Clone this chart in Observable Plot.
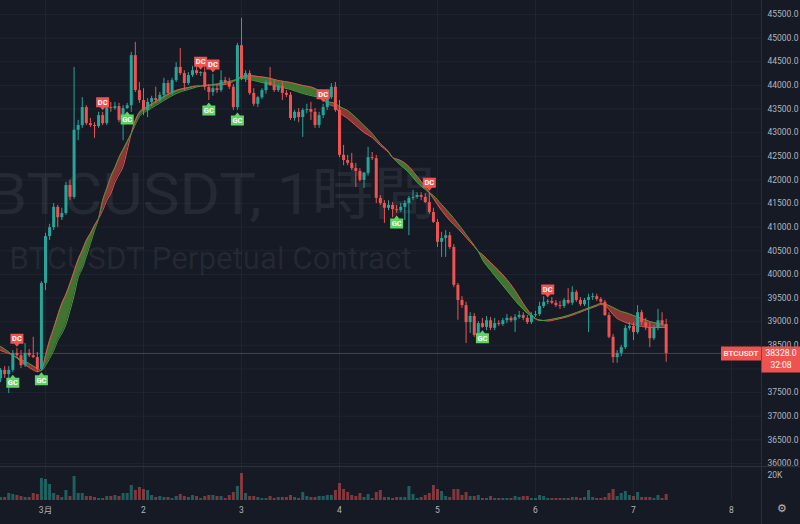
<!DOCTYPE html>
<html>
<head>
<meta charset="utf-8">
<script src="https://cdn.jsdelivr.net/npm/d3@7"></script>
<script src="https://cdn.jsdelivr.net/npm/@observablehq/plot@0.6"></script>
<style>
  html, body { margin: 0; padding: 0; background: #161a25; }
  #chart { width: 800px; height: 524px; background: #161a25; overflow: hidden; }
  #chart svg { display: block; }
</style>
</head>
<body>
<div id="chart"></div>
<script>
// ---------------- data (BTCUSDT perpetual, 1h candles from 2022-02-28 13:00 UTC) ----------------
const symbolName = "BTCUSDT";
const watermarkTitle = "BTCUSDT, 1時間";
const watermarkSub = "BTCUSDT Perpetual Contract";
const dayLabels = ["3月", "2", "3", "4", "5", "6", "7", "8"];
const priceTicks = [36000, 36500, 37000, 37500, 38000, 38500, 39000, 39500, 40000, 40500, 41000, 41500, 42000, 42500, 43000, 43500, 44000, 44500, 45000, 45500];
const volumeTicks = [20];
const lastPrice = 38328;
const countdown = "32:08";

const open = [37800,37970,37880,37970,38330,38280,38070,38330,38280,38240,
37990,39810,40800,40990,41420,41200,41290,41880,41630,43050,
43150,43530,43190,43150,43130,43360,43190,43530,43510,43550,
43260,43510,43570,44630,43890,43680,43470,43640,43720,43680,
43790,44040,43830,44100,44380,44250,44040,44210,44310,44250,
44270,43960,43850,43930,43890,44100,44060,43960,43530,44840,
44150,44250,43830,43600,43740,43890,44060,44000,43890,43980,
43830,43790,43300,43430,43320,43470,43490,43430,43150,43360,
43530,43740,43960,43470,42520,42410,42350,42240,42180,41990,
42140,42470,42450,41610,41500,41400,41460,41370,41350,41420,
41500,41610,41630,41670,41630,41520,41310,41100,40680,40760,
40820,40570,39770,39450,39340,38980,39110,38710,38960,38880,
39020,38860,38960,38940,39020,39070,39020,39090,39130,39070,
38980,39130,39150,39320,39410,39430,39390,39340,39320,39450,
39390,39620,39450,39360,39450,39510,39530,39470,39410,39130,
38670,38240,38330,38450,38860,38900,38770,39190,38980,38880,
38640,38860,39020,38940];

const high = [38010,38050,38050,38390,38430,38390,38540,38410,38670,38350,
39850,40870,41060,41500,41460,41400,41950,41990,44380,43260,
43740,43570,43300,43210,43430,43430,43740,43640,43640,43620,
43570,43620,44700,44910,44060,43930,43720,43770,43960,43850,
44150,44100,44150,44480,44780,44310,44270,44400,44420,44290,
44380,44020,44230,44020,44310,44170,44150,44020,44890,45420,
44310,44310,43930,43770,43930,44100,44380,44100,44020,44060,
43890,43850,43470,43510,43510,43600,43640,43510,43430,43600,
43770,44040,44060,43680,42730,42520,42560,42350,42240,42160,
42690,42580,42520,41670,41560,41560,41520,41460,41500,41560,
41650,41780,41730,41730,41710,41730,41400,41160,40890,40930,
40890,40630,39810,39530,39410,39190,39170,39000,39070,39110,
39090,39070,39020,39070,39150,39110,39150,39220,39190,39130,
39190,39220,39410,39530,39470,39510,39450,39430,39490,39700,
39740,39660,39510,39490,39580,39600,39580,39510,39450,39190,
38730,38390,38500,38920,38980,38980,39340,39240,39070,38980,
38920,39260,39190,39050];

const low = [37710,37800,37480,37920,38220,38010,38030,38240,38220,37920,
37970,39660,40720,40930,40990,41140,41250,41560,41590,42830,
43090,43150,43110,42880,43090,43150,43150,43430,43470,43210,
42830,43490,43430,43850,43620,43360,43320,43550,43620,43640,
43720,43790,43790,44060,44210,43890,44000,44170,44210,44190,
43890,43680,43770,43830,43850,44020,43910,43470,43470,44100,
44060,43790,43550,43530,43700,43810,43980,43850,43850,43680,
43740,43260,43240,43210,42900,43400,43260,43090,43090,43300,
43470,43700,43430,42470,42300,42300,42200,41840,41950,41820,
42090,42410,41500,41460,41080,41350,41200,41290,41310,41140,
40820,41560,41590,41560,41500,41270,41080,40570,40360,40360,
40530,39720,39030,39280,38540,38750,38670,38600,38860,38810,
38810,38810,38900,38900,38960,38980,38770,39050,39020,38940,
38940,39090,39110,39280,39360,39360,39300,39260,39280,39360,
39340,39410,39320,39320,38770,39450,39430,39360,39110,38640,
38120,38120,38260,38410,38810,38600,38730,38920,38810,38450,
38600,38810,38900,38140];

const close = [37970,37880,37970,38330,38280,38070,38330,38280,38240,37990,
39810,40800,40990,41420,41200,41290,41880,41630,43050,43150,
43530,43190,43150,43130,43360,43190,43530,43510,43550,43260,
43510,43570,44630,43890,43680,43470,43640,43720,43680,43790,
44040,43830,44100,44380,44250,44040,44210,44310,44250,44270,
43960,43850,43930,43890,44100,44060,43960,43530,44840,44150,
44250,43830,43600,43740,43890,44060,44000,43890,43980,43830,
43790,43300,43430,43320,43470,43490,43430,43150,43360,43530,
43740,43960,43470,42520,42410,42350,42240,42180,41990,42140,
42470,42450,41610,41500,41400,41460,41370,41350,41420,41500,
41610,41630,41670,41630,41520,41310,41100,40680,40760,40820,
40570,39770,39450,39340,38980,39110,38710,38960,38880,39020,
38860,38960,38940,39020,39070,39020,39090,39130,39070,38980,
39130,39150,39320,39410,39430,39390,39340,39320,39450,39390,
39620,39450,39360,39450,39510,39530,39470,39410,39130,38670,
38240,38330,38450,38860,38900,38770,39190,38980,38880,38640,
38860,39020,38940,38328];

// volume in thousands (K)
const volumeK = [2.4,2.4,5.6,4.8,4.0,3.2,2.4,2.4,5.6,4.8,
17.6,16.8,12.8,5.6,4.0,2.4,8.0,3.2,19.2,5.6,
5.6,3.2,3.2,2.4,1.6,1.6,3.2,3.2,4.0,3.2,
5.6,5.6,12.0,8.0,10.4,8.8,8.0,4.0,2.4,3.2,
2.4,2.4,1.6,3.2,4.8,3.2,2.4,4.0,3.2,1.6,
3.2,4.0,4.0,3.2,3.2,1.6,4.0,6.4,11.2,21.6,
5.6,3.2,3.2,2.4,1.6,1.6,3.2,1.6,2.4,2.4,
2.4,4.0,2.4,1.6,6.4,3.2,2.4,2.4,3.2,3.2,
4.0,4.0,8.0,13.6,8.8,6.4,4.0,3.2,5.6,2.4,
4.8,1.6,6.4,8.0,2.4,2.4,1.6,2.4,2.4,2.4,
11.2,4.8,1.6,2.4,4.0,5.6,12.0,8.8,7.2,3.2,
2.4,8.8,8.8,4.0,6.4,3.2,3.2,4.0,1.6,1.6,
3.2,1.6,1.6,1.6,1.6,1.6,3.2,2.4,3.2,3.2,
1.6,1.6,4.0,3.2,1.6,1.6,1.6,1.6,1.6,1.6,
2.4,2.4,1.6,2.4,8.0,2.4,1.6,1.6,2.4,5.6,
8.8,3.2,5.6,7.2,4.0,3.2,6.4,2.4,2.4,2.4,
1.6,4.0,1.6,4.8];

// two moving-average lines of the cross indicator, read at these candle indices
const maIndex = [0,2,3,4,5,7,9,10,11,12,13,14,15,16,17,18,19,20,21,22,23,24,25,26,27,28,29,30,31,32,33,34,36,38,40,43,46,48,49,50,51,52,53,55,57,58,59,61,63,65,68,71,74,77,78,79,80,82,83,85,87,89,91,93,95,96,97,98,100,102,104,105,106,108,110,112,114,116,117,118,120,122,124,126,128,130,131,132,133,134,136,139,143,146,147,148,149,150,151,152,153,155,157,159,161,163];
const maFast = [38390,38327,38295,38231,38157,38030,37946,37967,38284,38602,38856,39131,39385,39575,39808,40062,40316,40506,40718,40866,41035,41183,41352,41564,41712,41945,42114,42283,42622,42982,43257,43426,43553,43659,43765,43892,43955,43987,43987,43987,44008,44008,44008,44019,44082,44135,44188,44209,44188,44167,44103,44061,43997,43934,43870,43701,43617,43532,43426,43299,43151,43003,42897,42728,42580,42474,42442,42410,42283,42072,41860,41733,41606,41352,41141,40971,40781,40591,40485,40421,40252,40083,39892,39660,39385,39152,39067,39035,39025,39014,39046,39109,39236,39332,39363,39342,39258,39152,39067,39025,38983,38940,38898,38877,38877,38877];
const maSlow = [38475,38358,38284,38242,38200,38115,38009,37967,38073,38221,38390,38602,38750,38940,39236,39554,39935,40125,40379,40654,40929,41183,41564,41818,42072,42262,42474,42643,42812,42982,43172,43341,43468,43574,43680,43828,43913,43966,43987,44002,43997,44014,44029,44061,44103,44124,44146,44124,44082,44040,43976,43913,43828,43765,43744,43701,43659,43617,43553,43468,43320,43151,42982,42770,42601,42474,42389,42305,42156,41945,41797,41733,41670,41479,41289,41077,40845,40612,40485,40316,40083,39871,39660,39448,39258,39109,39057,39025,39025,39035,39067,39131,39258,39353,39385,39374,39342,39300,39258,39215,39194,39131,39067,39004,38961,38919];

// cross signals (candle index)
const goldenCross = [3, 10, 31, 51, 58, 97, 118];
const deadCross = [4, 25, 49, 52, 79, 105, 134];

// ---------------- build tables ----------------
const startHour = Date.UTC(2022, 1, 28, 13);
const HOUR = 3600000, DAY = 86400000;
const mar1 = Date.UTC(2022, 2, 1);
const timeOf = i => new Date(startHour + i * HOUR);
const candles = close.map((c, i) => ({t: timeOf(i), o: open[i], h: high[i], l: low[i], c, v: volumeK[i]}));
const maRows = maIndex.map((k, j) => ({t: timeOf(k), a: maFast[j], b: maSlow[j]}));
const gcRows = goldenCross.map(i => candles[i]);
const dcRows = deadCross.map(i => candles[i]);
const dayTicks = dayLabels.map((_, k) => new Date(mar1 + k * DAY));
const labelOf = new Map(dayTicks.map((d, k) => [+d, dayLabels[k]]));

const xDomain = [new Date(mar1 - 45 / 98 * DAY), new Date(mar1 + 716 / 98 * DAY)];
const UP = "#26a69a", DOWN = "#ef5350";
const GRID = "#1f2430", AXISLINE = "#2a2e39", TEXT = "#b2b5be";
const col = d => (d.c >= d.o ? UP : DOWN);
const FONT = "Roboto, 'Noto Sans CJK JP', 'Noto Sans', sans-serif";

// custom label symbols
const dcSymbol = {draw(ctx) {
  ctx.moveTo(-6.5, -15); ctx.lineTo(6.5, -15); ctx.lineTo(6.5, -5);
  ctx.lineTo(2.5, -5); ctx.lineTo(0, -2); ctx.lineTo(-2.5, -5); ctx.lineTo(-6.5, -5); ctx.closePath();
}};
const gcSymbol = {draw(ctx) {
  ctx.moveTo(-6.5, 15); ctx.lineTo(6.5, 15); ctx.lineTo(6.5, 5);
  ctx.lineTo(2.5, 5); ctx.lineTo(0, 2); ctx.lineTo(-2.5, 5); ctx.lineTo(-6.5, 5); ctx.closePath();
}};
const nameBox = {draw(ctx) { ctx.rect(-20, -7, 40, 14); }};
const priceBox = {draw(ctx) { ctx.rect(-19.5, -7, 39, 26); }};

const pricePlot = Plot.plot({
  width: 800, height: 466,
  marginLeft: 0, marginRight: 39, marginTop: 0, marginBottom: 0,
  style: {background: "transparent", color: TEXT, fontFamily: FONT, fontSize: "8.5px", overflow: "visible"},
  x: {type: "utc", domain: xDomain, axis: null, label: null},
  y: {domain: [35936, 45796], axis: null, label: null},
  color: {type: "identity"},
  marks: [
    Plot.gridY(priceTicks, {stroke: GRID, strokeOpacity: 1}),
    Plot.gridX(dayTicks, {stroke: GRID, strokeOpacity: 1}),
    Plot.text([watermarkTitle], {frameAnchor: "top-left", dx: -12, dy: 172, text: d => d, textAnchor: "start", lineAnchor: "top", fontSize: 58, fill: "#ffffff", fillOpacity: 0.065}),
    Plot.text([watermarkSub], {frameAnchor: "top-left", dx: 9, dy: 246, text: d => d, textAnchor: "start", lineAnchor: "top", fontSize: 31, fill: "#ffffff", fillOpacity: 0.065}),
    Plot.ruleY([lastPrice], {stroke: DOWN, strokeOpacity: 0.4}),
    Plot.areaY(maRows, {x: "t", y1: "b", y2: d => Math.max(d.a, d.b), fill: "#4c8a34", fillOpacity: 0.8, curve: "monotone-x"}),
    Plot.areaY(maRows, {x: "t", y1: "a", y2: d => Math.max(d.a, d.b), fill: "#a83f3b", fillOpacity: 0.8, curve: "monotone-x"}),
    Plot.line(maRows, {x: "t", y: "a", stroke: "#e0574f", strokeWidth: 1, curve: "monotone-x"}),
    Plot.line(maRows, {x: "t", y: "b", stroke: "#4f9a3c", strokeWidth: 1, curve: "monotone-x"}),
    Plot.ruleX(candles, {x: "t", y1: "l", y2: "h", stroke: col, strokeWidth: 1}),
    Plot.ruleX(candles, {x: "t", y1: "o", y2: "c", stroke: col, strokeWidth: 3}),
    Plot.dot(dcRows, {x: "t", y: "h", symbol: dcSymbol, fill: "#f05350", stroke: "none"}),
    Plot.text(dcRows, {x: "t", y: "h", text: () => "DC", dy: -10, fill: "#ffffff", fontSize: 7.5, fontWeight: "bold"}),
    Plot.dot(gcRows, {x: "t", y: "l", symbol: gcSymbol, fill: "#5fd364", stroke: "none"}),
    Plot.text(gcRows, {x: "t", y: "l", text: () => "GC", dy: 10, fill: "#ffffff", fontSize: 7.5, fontWeight: "bold"}),
    Plot.ruleX([xDomain[1]], {stroke: AXISLINE}),
    Plot.axisY({ticks: priceTicks, anchor: "right", label: null, tickSize: 0, tickPadding: 6, tickFormat: d => d.toFixed(1), fontSize: 8.5}),
    Plot.dot([lastPrice], {y: d => d, frameAnchor: "right", dx: -20.5, symbol: nameBox, fill: DOWN, stroke: "none"}),
    Plot.dot([lastPrice], {y: d => d, frameAnchor: "right", dx: 19.5, symbol: priceBox, fill: DOWN, stroke: "none"}),
    Plot.text([lastPrice], {y: d => d, frameAnchor: "right", dx: -20.5, textAnchor: "middle", text: () => symbolName, fill: "#ffffff", fontSize: 8, fontWeight: 500}),
    Plot.text([lastPrice], {y: d => d, frameAnchor: "right", dx: 19.5, textAnchor: "middle", text: d => d.toFixed(1), fill: "#ffffff", fontSize: 8.5}),
    Plot.text([lastPrice], {y: d => d, frameAnchor: "right", dx: 19.5, dy: 12, textAnchor: "middle", text: () => countdown, fill: "#ffffff", fontSize: 8.5})
  ]
});

const volumePlot = Plot.plot({
  width: 800, height: 58,
  marginLeft: 0, marginRight: 39, marginTop: 0, marginBottom: 24,
  style: {background: "transparent", color: TEXT, fontFamily: FONT, fontSize: "8.5px", overflow: "visible"},
  x: {type: "utc", domain: xDomain, axis: null, label: null},
  y: {domain: [0, 27.2], axis: null, label: null},
  color: {type: "identity"},
  marks: [
    Plot.gridX(dayTicks, {stroke: GRID, strokeOpacity: 1}),
    Plot.ruleX(candles, {x: "t", y1: 0, y2: "v", stroke: col, strokeOpacity: 0.5, strokeWidth: 3}),
    Plot.ruleY([27.2], {stroke: AXISLINE, strokeWidth: 1.5, insetRight: -39}),
    Plot.ruleX([xDomain[1]], {stroke: AXISLINE, insetBottom: -24}),
    Plot.axisY({ticks: volumeTicks, anchor: "right", label: null, tickSize: 0, tickPadding: 6, tickFormat: d => d + "K", fontSize: 8.5}),
    Plot.axisX({ticks: dayTicks, anchor: "bottom", label: null, tickSize: 0, tickPadding: 6, tickFormat: d => labelOf.get(+d), fontSize: 8.5}),
    Plot.text(["⚙"], {frameAnchor: "bottom-right", dx: 20, dy: 11, textAnchor: "middle", text: d => d, fontSize: 11, fill: TEXT})
  ]
});

const root = document.getElementById("chart");
root.appendChild(pricePlot);
root.appendChild(volumePlot);

// squeeze watermark texts to the reference widths
d3.select(pricePlot).selectAll("text").each(function () {
  if (this.textContent === watermarkTitle) d3.select(this).attr("textLength", 447).attr("lengthAdjust", "spacingAndGlyphs");
  if (this.textContent === watermarkSub) d3.select(this).attr("textLength", 402).attr("lengthAdjust", "spacingAndGlyphs");
});
</script>
</body>
</html>
